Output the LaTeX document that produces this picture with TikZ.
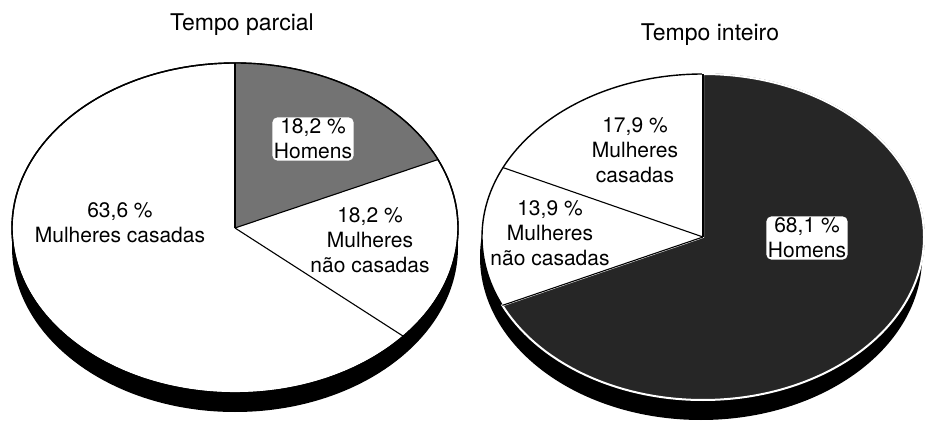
\documentclass[tikz,border=0pt]{standalone}
\usepackage{fontspec}
\setmainfont{TeX Gyre Heros}

\begin{document}
\begin{tikzpicture}[x=1pt,y=1pt,
      pie edge/.style={draw=black,line width=1.4pt},
      cut line/.style={draw=black,line width=1.1pt},
      pct label/.style={align=center,font=\fontsize{21}{25}\selectfont},
      halo label/.style={pct label,fill=white,rounded corners=5pt,inner sep=1.5pt},
      title label/.style={font=\fontsize{23}{27}\selectfont}]

    \useasboundingbox (0,0) rectangle (926,423);

    % Tempo parcial
    \coordinate (lc) at (235,195);
    \fill[black] ([yshift=-19pt]lc) ellipse [x radius=223, y radius=165];
    \filldraw[fill=white,pie edge] (lc) ellipse [x radius=223, y radius=165];
    \fill[black!55] (lc) -- ([shift={(90:223 and 165)}]lc)
      arc [start angle=90, end angle=24.5, x radius=223, y radius=165] -- cycle;
    \draw[pie edge] (lc) ellipse [x radius=223, y radius=165];
    \draw[cut line] (lc) -- ([shift={(90:223 and 165)}]lc);
    \draw[cut line] (lc) -- ([shift={(24.5:223 and 165)}]lc);
    \draw[cut line] (lc) -- ([shift={(-41:223 and 165)}]lc);

    \node[title label] (ltitle) at (242,398) {Tempo parcial};
    \node[halo label] (lhom) at (313,284) {18,2 \%\\Homens};
    \node[pct label] (lnaocas) at (370,183) {18,2 \%\\Mulheres\\não casadas};
    \node[pct label] (lcas) at (120,200) {63,6 \%\\Mulheres casadas};

    % Tempo inteiro
    \coordinate (rc) at (703,186);
    \fill[black] ([shift={(-2pt,-20pt)}]rc) ellipse [x radius=221, y radius=163];
    \filldraw[fill=white,pie edge] (rc) ellipse [x radius=221, y radius=163];
    \filldraw[fill=black!85,draw=white,line width=2pt] (rc) -- ([shift={(90:221 and 163)}]rc)
      arc [start angle=90, end angle=-155.2, x radius=221, y radius=163] -- cycle;
    \draw[cut line] (rc) -- ([shift={(90:221 and 163)}]rc);
    \draw[cut line] (rc) -- ([shift={(-155.2:221 and 163)}]rc);
    \draw[cut line] (rc) -- ([shift={(154.8:221 and 163)}]rc);

    \node[title label] (rtitle) at (710,388) {Tempo inteiro};
    \node[pct label] (rcas) at (635,273) {17,9 \%\\Mulheres\\casadas};
    \node[pct label] (rnaocas) at (550,190) {13,9 \%\\Mulheres\\não casadas};
    \node[halo label] (rhom) at (807,185) {68,1 \%\\Homens};
  \end{tikzpicture}
\end{document}
